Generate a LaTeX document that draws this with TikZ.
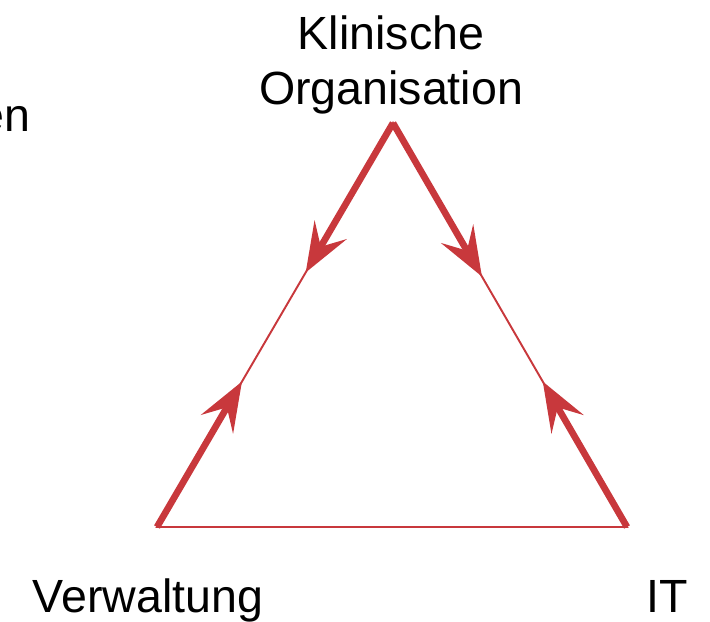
\documentclass[tikz,border=0pt]{standalone}
\usepackage{fontspec}
\setmainfont{Liberation Sans}
\usepackage{tikz}
\usetikzlibrary{calc,arrows.meta}

\definecolor{pfeilrot}{RGB}{200,56,60}

\begin{document}
\begin{tikzpicture}[x=0.02cm, y=0.02cm,
  thin line/.style={pfeilrot, line width=1.1pt},
  thick arrow/.style={pfeilrot, line width=3.8pt,
    -{Stealth[length=28pt, width=21pt, inset=11pt]}},
  label text/.style={font=\fontsize{26.5}{31.5}\selectfont, inner sep=0pt}]
\useasboundingbox (0,0) rectangle (710,622);

%Corners
\coordinate (org)  at (393,499);
\coordinate (verw) at (157,95);
\coordinate (it)   at (627,95);

%Labels
\node[label text, anchor=base] (klin) at (391,572) {Klinische};
\node[label text, anchor=base] (orgtext) at (391,517) {Organisation};
\node[label text, anchor=base] (verwtext) at (148,10) {Verwaltung};
\node[label text, anchor=base] (ittext) at (667,10) {IT};
\node[label text, anchor=base east] (rest) at (31,490) {en};

%Triangle
\draw[thin line] (verw) -- (org) -- (it) -- cycle;

%Arrows
\draw[thick arrow] (org) -- ($(org)!0.37!(verw)$);
\draw[thick arrow] (org) -- ($(org)!0.38!(it)$);
\draw[thick arrow] (verw) -- ($(verw)!0.36!(org)$);
\draw[thick arrow] (it) -- ($(it)!0.36!(org)$);

\end{tikzpicture}
\end{document}
